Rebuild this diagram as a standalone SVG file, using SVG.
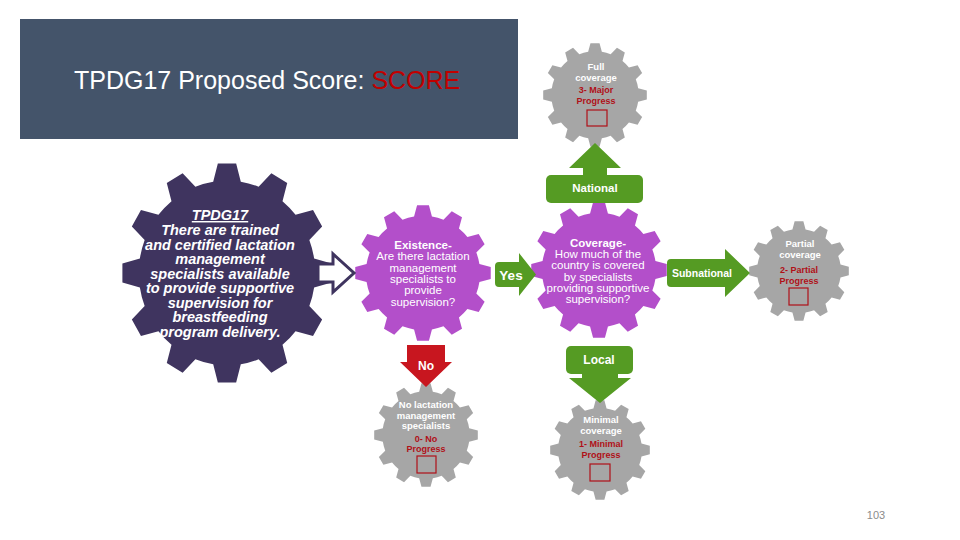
<svg xmlns="http://www.w3.org/2000/svg" xmlns:xlink="http://www.w3.org/1999/xlink" width="960" height="540" viewBox="0 0 960 540">
<defs>
<path id="gear" d="M -13.14 -82.97 L -8.72 -99.62 L 8.72 -99.62 L 13.14 -82.97 A 84 84 0 0 1 30.10 -78.42 L 42.26 -90.63 L 57.36 -81.92 L 52.86 -65.28 A 84 84 0 0 1 65.28 -52.86 L 81.92 -57.36 L 90.63 -42.26 L 78.42 -30.10 A 84 84 0 0 1 82.97 -13.14 L 99.62 -8.72 L 99.62 8.72 L 82.97 13.14 A 84 84 0 0 1 78.42 30.10 L 90.63 42.26 L 81.92 57.36 L 65.28 52.86 A 84 84 0 0 1 52.86 65.28 L 57.36 81.92 L 42.26 90.63 L 30.10 78.42 A 84 84 0 0 1 13.14 82.97 L 8.72 99.62 L -8.72 99.62 L -13.14 82.97 A 84 84 0 0 1 -30.10 78.42 L -42.26 90.63 L -57.36 81.92 L -52.86 65.28 A 84 84 0 0 1 -65.28 52.86 L -81.92 57.36 L -90.63 42.26 L -78.42 30.10 A 84 84 0 0 1 -82.97 13.14 L -99.62 8.72 L -99.62 -8.72 L -82.97 -13.14 A 84 84 0 0 1 -78.42 -30.10 L -90.63 -42.26 L -81.92 -57.36 L -65.28 -52.86 A 84 84 0 0 1 -52.86 -65.28 L -57.36 -81.92 L -42.26 -90.63 L -30.10 -78.42 A 84 84 0 0 1 -13.14 -82.97 Z"/>
<style>
.t{font-family:"Liberation Sans",Arial,sans-serif;text-anchor:middle}
.dark{fill:#3f345f}
.purple{fill:#b34fca}
.gray{fill:#a6a6a6}
.green{fill:#559b23}
.redf{fill:#c8161f}
.wb{fill:#ffffff;font-weight:bold}
.wr{fill:#ffffff}
.rd{fill:#b01018;font-weight:bold;font-size:9px}
.sw{font-size:9.5px}
.box{fill:none;stroke:#b01018;stroke-width:1.2}
.big{font-size:14.5px;font-weight:bold;font-style:italic;fill:#ffffff}
.q{font-size:11.5px}
</style>
</defs>
<rect width="960" height="540" fill="#ffffff"/>

<g id="header">
<rect x="20" y="19" width="498" height="120" fill="#44546a"/>
<text x="74" y="89" font-family="'Liberation Sans',Arial,sans-serif" font-size="25" fill="#ffffff">TPDG17 Proposed Score: <tspan fill="#c00000">SCORE</tspan></text>
</g>

<g id="tpdg17">
<use xlink:href="#gear" class="dark" transform="translate(227,273) scale(1.05,1.1)"/>
<text class="t big" x="220" y="220" text-decoration="underline">TPDG17</text>
<text class="t big" x="220" y="235">There are trained</text>
<text class="t big" x="220" y="249.5">and certified lactation</text>
<text class="t big" x="220" y="264">management</text>
<text class="t big" x="220" y="278.5">specialists available</text>
<text class="t big" x="220" y="293">to provide supportive</text>
<text class="t big" x="220" y="307.5">supervision for</text>
<text class="t big" x="220" y="322">breastfeeding</text>
<text class="t big" x="220" y="336.5">program delivery.</text>
</g>

<g id="existence">
<use xlink:href="#gear" class="purple" transform="translate(423,273) scale(0.68)"/>
<text class="t q wb" x="423" y="249">Existence-</text>
<text class="t q wr" x="423" y="260.3">Are there lactation</text>
<text class="t q wr" x="423" y="271.6">management</text>
<text class="t q wr" x="423" y="282.9">specialists to</text>
<text class="t q wr" x="423" y="294.2">provide</text>
<text class="t q wr" x="423" y="305.5">supervision?</text>
</g>

<g id="coverage">
<use xlink:href="#gear" class="purple" transform="translate(599,270) scale(0.68)"/>
<text class="t q wb" x="598" y="247">Coverage-</text>
<text class="t q wr" x="598" y="258.2">How much of the</text>
<text class="t q wr" x="598" y="269.4">country is covered</text>
<text class="t q wr" x="598" y="280.6">by specialists</text>
<text class="t q wr" x="598" y="291.8">providing supportive</text>
<text class="t q wr" x="598" y="303">supervision?</text>
</g>

<g id="full">
<use xlink:href="#gear" class="gray" transform="translate(595,95) scale(0.52)"/>
<text class="t wb sw" x="596" y="70">Full</text>
<text class="t wb sw" x="596" y="80.6">coverage</text>
<text class="t rd" x="596" y="93">3- Major</text>
<text class="t rd" x="596" y="103.6">Progress</text>
<rect class="box" x="587" y="110" width="20" height="16"/>
</g>

<g id="partial">
<use xlink:href="#gear" class="gray" transform="translate(799,271) scale(0.5)"/>
<text class="t wb sw" x="800" y="247">Partial</text>
<text class="t wb sw" x="800" y="257.6">coverage</text>
<text class="t rd" x="799" y="273">2- Partial</text>
<text class="t rd" x="799" y="283.6">Progress</text>
<rect class="box" x="789" y="288" width="19" height="17"/>
</g>

<g id="none">
<use xlink:href="#gear" class="gray" transform="translate(426,435) scale(0.52)"/>
<text class="t wb sw" x="426" y="408">No lactation</text>
<text class="t wb sw" x="426" y="418.6">management</text>
<text class="t wb sw" x="426" y="429.2">specialists</text>
<text class="t rd" x="426" y="441.5">0- No</text>
<text class="t rd" x="426" y="452">Progress</text>
<rect class="box" x="417" y="456" width="19" height="17"/>
</g>

<g id="minimal">
<use xlink:href="#gear" class="gray" transform="translate(600,450) scale(0.5)"/>
<text class="t wb sw" x="601" y="423">Minimal</text>
<text class="t wb sw" x="601" y="433.6">coverage</text>
<text class="t rd" x="601" y="447">1- Minimal</text>
<text class="t rd" x="601" y="457.6">Progress</text>
<rect class="box" x="590" y="464" width="20" height="17"/>
</g>

<g id="connectors">
<path d="M318 264 H333 V254 L354 273 L333 292 V282 H318 Z" fill="#ffffff" stroke="#3f345f" stroke-width="3" stroke-linejoin="miter"/>
<path class="green" d="M499 262 H519 V253 L536 274.5 L519 296 V287 H499 Q495 287 495 283 V266 Q495 262 499 262 Z"/>
<text class="t wb" x="511" y="279.5" font-size="13.5">Yes</text>
<path class="green" d="M671 259 H725 V249 L750 273 L725 297 V287 H671 Q667 287 667 283 V263 Q667 259 671 259 Z"/>
<text class="t wb" x="702" y="277" font-size="10.5">Subnational</text>
<path class="green" d="M595 143 L621 168 H607 V176 H583 V168 H569 Z"/>
<rect class="green" x="546" y="175" width="97" height="28" rx="5"/>
<text class="t wb" x="595" y="192" font-size="11.5">National</text>
<path class="redf" d="M407 345 H445 V362 H452 L426 387 L400 362 H407 Z"/>
<text class="t wb" x="426" y="369.5" font-size="12">No</text>
<rect class="green" x="566" y="346" width="67" height="28" rx="5"/>
<path class="green" d="M582 372 H618 V378 H631 L600 403 L569 378 H582 Z"/>
<text class="t wb" x="599" y="364" font-size="12">Local</text>
</g>

<text x="876" y="519" font-family="'Liberation Sans',Arial,sans-serif" font-size="11" fill="#8b8b8b" text-anchor="middle">103</text>
</svg>
